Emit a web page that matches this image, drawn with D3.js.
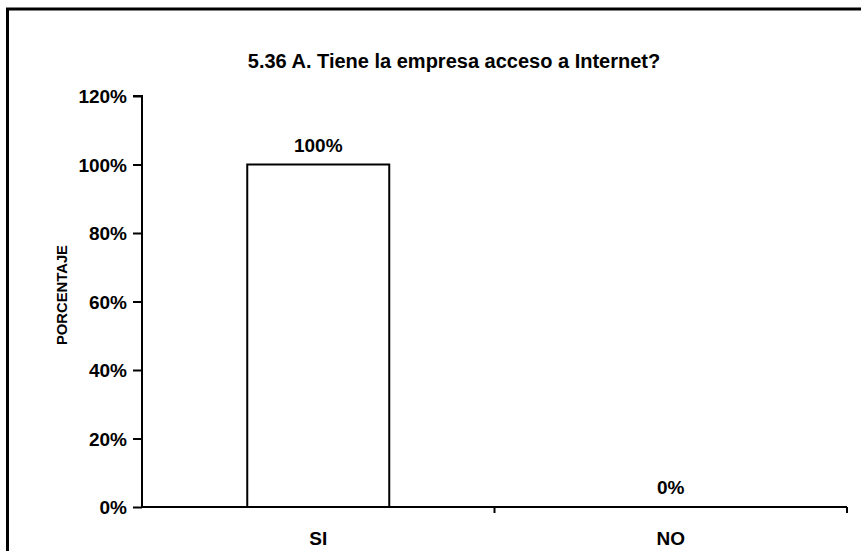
<!DOCTYPE html>
<html>
<head>
<meta charset="utf-8">
<script src="https://cdn.jsdelivr.net/npm/d3@7"></script>
<style>
  body { margin: 0; background: #fff; }
  text { font-family: "Liberation Sans", Arial, sans-serif; font-weight: bold; fill: #000; }
</style>
</head>
<body>
<div id="chart"></div>
<script>
// Data
const categories = ['SI', 'NO']
const values = [100, 0]
const yTicks = [0, 20, 40, 60, 80, 100, 120]

// Dimensions
let dimensions = {
  width: 861,
  height: 551,
  left: 142,
  right: 847,
  top: 96,
  bottom: 507
}

const svg = d3.select('#chart')
  .append('svg')
    .attr('width', dimensions.width)
    .attr('height', dimensions.height)

// outer frame (runs off the right and bottom edges)
svg.append('rect')
  .attr('x', 7.5)
  .attr('y', 9)
  .attr('width', 900)
  .attr('height', 600)
  .attr('fill', 'none')
  .attr('stroke', '#000')
  .attr('stroke-width', 3)

// Scales
const xScale = d3.scaleBand()
  .domain(categories)
  .range([dimensions.left, dimensions.right])

const yScale = d3.scaleLinear()
  .domain([0, 120])
  .range([dimensions.bottom, dimensions.top])

// title
svg.append('text')
  .attr('x', 454)
  .attr('y', 68)
  .attr('text-anchor', 'middle')
  .style('font-size', '20px')
  .text('5.36 A. Tiene la empresa acceso a Internet?')

// y axis
const yAxis = d3.axisLeft(yScale)
  .tickValues(yTicks)
  .tickFormat(d => d + '%')
  .tickSize(9)
  .tickPadding(6)

const yG = svg.append('g')
  .attr('transform', `translate(${dimensions.left},0)`)
  .call(yAxis)
yG.select('.domain').attr('stroke-width', 2).attr('d', `M-9,${dimensions.top}H0V${dimensions.bottom}`)
yG.selectAll('.tick line').attr('stroke-width', 2)
yG.selectAll('text').style('font-size', '19px').attr('font-family', null).attr('dy', '0.36em')

// x axis
const xAxis = d3.axisBottom(xScale).tickSize(0).tickFormat('')
const xG = svg.append('g')
  .attr('transform', `translate(0,${dimensions.bottom})`)
  .call(xAxis)
xG.select('.domain').attr('stroke-width', 2)
  .attr('d', `M${dimensions.left},0H${dimensions.right}`)

// category divider ticks
const bounds = [xScale.range()[0] + xScale.bandwidth(), xScale.range()[1]]
xG.selectAll('.divider')
  .data(bounds)
  .join('line')
  .attr('x1', d => d)
  .attr('x2', d => d)
  .attr('y1', 0)
  .attr('y2', 6)
  .attr('stroke', '#000')
  .attr('stroke-width', 2)

// category labels
svg.selectAll('.cat')
  .data(categories)
  .join('text')
  .attr('x', d => xScale(d) + xScale.bandwidth() / 2)
  .attr('y', 545)
  .attr('text-anchor', 'middle')
  .style('font-size', '19px')
  .text(d => d)

// y label
svg.append('text')
  .attr('transform', 'translate(67,295) rotate(-90)')
  .attr('text-anchor', 'middle')
  .attr('textLength', 100)
  .attr('lengthAdjust', 'spacingAndGlyphs')
  .style('font-size', '14px')
  .text('PORCENTAJE')

// bars
const barW = 142
svg.selectAll('.bar')
  .data(values)
  .join('rect')
  .attr('x', (d, i) => xScale(categories[i]) + xScale.bandwidth() / 2 - barW / 2)
  .attr('y', d => yScale(d))
  .attr('width', barW)
  .attr('height', d => yScale(0) - yScale(d))
  .attr('fill', '#fff')
  .attr('stroke', '#000')
  .attr('stroke-width', 2)

// value labels
svg.selectAll('.val')
  .data(values)
  .join('text')
  .attr('x', (d, i) => xScale(categories[i]) + xScale.bandwidth() / 2)
  .attr('y', d => yScale(d) - 13)
  .attr('text-anchor', 'middle')
  .style('font-size', '19px')
  .text(d => d + '%')
</script>
</body>
</html>
